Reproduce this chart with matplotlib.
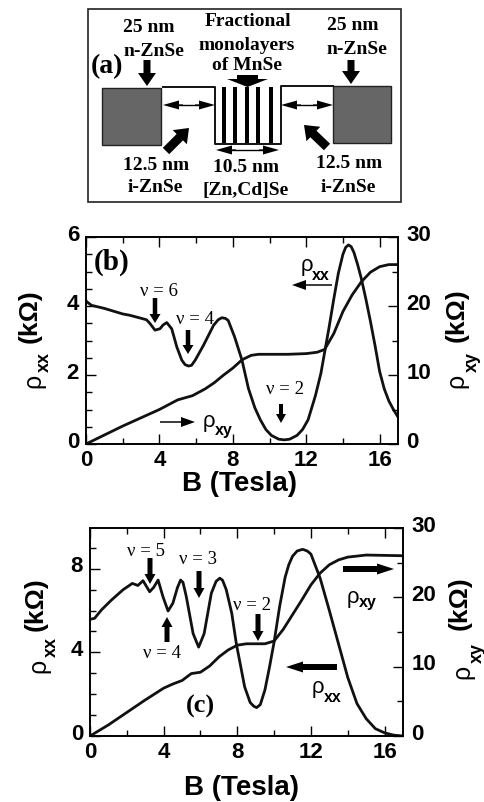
import matplotlib
matplotlib.use("Agg")
import matplotlib.pyplot as plt
from matplotlib.patches import Rectangle
from matplotlib.ticker import MultipleLocator
from matplotlib.transforms import ScaledTranslation

W, H = 485, 802
SANS = "Liberation Sans"
SERIF = "Liberation Serif"

# panel (b)
b_xx_B = [0, .1, .3, 1, 2, 2.4, 3.1, 3.3, 3.49, 3.76, 4.03, 4.2, 4.4, 4.67, 4.95, 5.22, 5.4, 5.58, 5.75, 5.95, 6.4, 6.95, 7.2, 7.4, 7.6, 7.75, 8.1, 8.5, 8.85, 9.2, 9.5, 9.8, 10.1, 10.5, 10.8, 11.1, 11.5, 11.8, 12.1, 12.5, 12.8, 13.0, 13.25, 13.5, 13.75, 14.0, 14.15, 14.3, 14.45, 14.6, 14.8, 15, 15.25, 15.5, 15.75, 16, 16.25, 16.5, 16.75, 17]
b_xx = [4.15, 4.1, 4.02, 3.93, 3.77, 3.73, 3.63, 3.6, 3.49, 3.3, 3.34, 3.45, 3.52, 3.34, 2.81, 2.43, 2.3, 2.26, 2.28, 2.43, 2.86, 3.44, 3.6, 3.66, 3.64, 3.58, 3.1, 2.43, 1.61, 1.05, .7, .42, .25, .14, .12, .14, .25, .42, .7, 1.4, 2.05, 2.65, 3.4, 4.2, 4.95, 5.5, 5.7, 5.77, 5.72, 5.55, 5.2, 4.8, 4.2, 3.55, 2.85, 2.1, 1.6, 1.25, 1.0, .78]
b_xy_B = [0, 1, 2, 3, 4, 5, 5.8, 6.5, 7, 7.5, 8, 8.5, 9, 9.4, 10, 11, 12, 12.6, 13, 13.5, 14, 14.5, 15, 15.5, 16, 16.5, 17]
b_xy = [0, 1.3, 2.6, 3.8, 5, 6.4, 7, 8, 8.9, 10, 11, 12.2, 12.85, 13, 13, 13, 13.1, 13.3, 13.7, 16, 19.2, 21.6, 23.5, 24.9, 25.7, 26, 26]

# panel (c)
c_xx_B = [0, .25, .62, 1.16, 1.8, 2.3, 2.6, 2.88, 3.24, 3.45, 3.7, 3.96, 4.24, 4.5, 4.75, 4.92, 5.05, 5.23, 5.6, 5.9, 6.2, 6.59, 6.85, 7.05, 7.2, 7.4, 7.7, 7.95, 8.4, 8.7, 8.9, 9.05, 9.25, 9.5, 9.75, 10, 10.3, 10.6, 10.8, 11, 11.25, 11.55, 11.8, 12, 12.5, 13, 13.5, 14, 14.5, 15, 15.5, 16, 16.5, 17]
c_xx = [5.58, 5.63, 6.03, 6.5, 7.0, 7.3, 7.2, 7.43, 6.9, 7.1, 7.46, 6.67, 5.98, 6.35, 7.1, 7.46, 7.35, 6.67, 4.9, 4.25, 4.9, 6.83, 7.4, 7.55, 7.45, 7.0, 5.87, 4.4, 2.35, 1.6, 1.42, 1.36, 1.5, 2.2, 3.3, 4.5, 6.2, 7.6, 8.2, 8.6, 8.85, 8.93, 8.85, 8.7, 7.55, 6.0, 4.4, 2.8, 1.55, .83, .35, .15, .04, 0]
c_xy_B = [0, 1, 2, 3, 4, 4.5, 5, 5.5, 6, 6.5, 7, 7.5, 8, 8.5, 9.5, 10, 10.5, 11, 11.5, 12, 12.5, 13, 13.5, 14, 15, 17]
c_xy = [0, 1.6, 3.4, 5.2, 6.9, 7.5, 8.0, 9.0, 9.2, 10.1, 11.4, 12.4, 13.1, 13.3, 13.3, 13.7, 15.4, 17.5, 19.6, 21.8, 23.5, 24.7, 25.4, 25.8, 26.1, 26]

b_left_ticks = [0, 2, 4, 6]
c_left_ticks = [0, 4, 8]
right_ticks = [0, 10, 20, 30]
x_ticks = [0, 4, 8, 12, 16]

fig = plt.figure(figsize=(W / 100, H / 100), dpi=100, facecolor="white")
lift = ScaledTranslation(0, 4.5 / 100, fig.dpi_scale_trans)


def frac_rect(x0, y0, x1, y1):
    return [x0 / W, 1 - y1 / H, (x1 - x0) / W, (y1 - y0) / H]


def panel(box, xx_B, xx, xy_B, xy, ymax, lticks, lminor):
    ax = fig.add_axes(frac_rect(*box))
    ax.plot(xx_B, xx, color="#111111", lw=2.0, solid_joinstyle="round")
    ax.set_xlim(0, 17)
    ax.set_ylim(0, ymax)
    ax.set_xticks(x_ticks)
    ax.xaxis.set_minor_locator(MultipleLocator(2))
    ax.set_yticks(lticks)
    ax.yaxis.set_minor_locator(MultipleLocator(lminor))
    ax.tick_params(which="both", direction="in", top=True, width=1, labelsize=16)
    ax.tick_params(axis="x", pad=4)
    ax.tick_params(axis="y", pad=5)
    ax.tick_params(which="major", length=7)
    ax.tick_params(which="minor", length=4)
    ax2 = ax.twinx()
    ax2.plot(xy_B, xy, color="#111111", lw=2.0, solid_joinstyle="round")
    ax2.set_ylim(0, 30)
    ax2.set_yticks(right_ticks)
    ax2.yaxis.set_minor_locator(MultipleLocator(5))
    ax2.tick_params(which="both", direction="in", width=1, labelsize=16, pad=6)
    ax2.tick_params(which="major", length=7)
    ax2.tick_params(which="minor", length=4)
    for a in (ax, ax2):
        for s in a.spines.values():
            s.set_linewidth(1.2)
        for lab in a.get_xticklabels() + a.get_yticklabels():
            lab.set_fontfamily(SANS)
            lab.set_fontweight("bold")
    for t in ax.yaxis.get_major_ticks():
        t.label1.set_transform(t.label1.get_transform() + lift)
    for t in ax2.yaxis.get_major_ticks():
        t.label2.set_transform(t.label2.get_transform() + lift)
    return ax


panel((86, 237, 398, 444), b_xx_B, b_xx, b_xy_B, b_xy, 6, b_left_ticks, 0.5)
panel((90, 528, 403, 736), c_xx_B, c_xx, c_xy_B, c_xy, 9.95, c_left_ticks, 1)

# overlay in reference pixel coordinates for the annotations and schematic
ov = fig.add_axes([0, 0, 1, 1], zorder=10)
ov.set_xlim(0, W)
ov.set_ylim(H, 0)
ov.axis("off")
ov.patch.set_alpha(0)


def txt(x, y, s, size=11, fam=SERIF, weight="bold", rot=0, ha="center", va="center"):
    ov.text(x, y, s, fontsize=size, family=fam, fontweight=weight, rotation=rot, ha=ha, va=va, color="black")


def arrow(x0, y0, x1, y1, w=6, hw=15, hl=11):
    ov.arrow(x0, y0, x1 - x0, y1 - y0, width=w, head_width=hw, head_length=hl,
             length_includes_head=True, color="black", lw=0)


def darrow(x0, y, x1):
    arrow(x0 + 20, y, x0, y, w=1.2, hw=9, hl=16)
    arrow(x1 - 20, y, x1, y, w=1.2, hw=9, hl=16)
    ov.plot([x0 + 10, x1 - 10], [y, y], color="black", lw=1)


# schematic (a)
ov.add_patch(Rectangle((88, 9), 313, 193, fill=False, ec="#222222", lw=1.2))
ov.add_patch(Rectangle((102, 88), 59, 57, fc="#666666", ec="#222222", lw=1))
ov.add_patch(Rectangle((333, 86), 58, 57, fc="#666666", ec="#222222", lw=1))
ov.plot([163, 215, 215, 281, 281, 333], [87, 87, 144, 144, 86, 86], color="#111111", lw=1.4)
for sx in (224, 235, 247, 258, 271):
    ov.add_patch(Rectangle((sx - 2, 87), 4, 56, fc="black", ec="none"))
txt(149, 27, "25 nm", 14)
txt(154, 51, "n-ZnSe", 14)
txt(353, 26, "25 nm", 14)
txt(357, 49, "n-ZnSe", 14)
txt(248, 21, "Fractional", 14)
txt(247, 45, "monolayers", 14)
txt(247, 66, "of MnSe", 14)
txt(107, 67, "(a)", 20)
txt(156, 165, "12.5 nm", 14)
txt(155, 188, "i-ZnSe", 14)
txt(246, 167, "10.5 nm", 14)
txt(246, 190, "[Zn,Cd]Se", 14)
txt(349, 163, "12.5 nm", 14)
txt(348, 187, "i-ZnSe", 14)
arrow(147, 60, 147, 86, w=7, hw=18, hl=13)
arrow(351, 60, 351, 84, w=7, hw=18, hl=13)
arrow(247.5, 75, 247.5, 87, w=21, hw=41, hl=8)
arrow(166, 151, 189, 128, w=9, hw=20, hl=13)
arrow(327, 147, 304, 125, w=9, hw=20, hl=13)
darrow(163, 105, 215)
darrow(281, 105, 333)
darrow(216, 150, 279)

# panel (b) labels
txt(112, 262, "(b)", 21)
txt(159, 292, "ν = 6", 13.5, weight="normal")
txt(195, 320, "ν = 4", 13.5, weight="normal")
txt(285, 389, "ν = 2", 13.5, weight="normal")
txt(307, 265, "ρ", 16, fam=SANS, weight="normal")
txt(321, 275, "xx", 11.5, fam=SANS)
txt(209, 421, "ρ", 16, fam=SANS, weight="normal")
txt(224, 431, "xy", 11.5, fam=SANS)
arrow(155, 298, 155, 323, w=4.5, hw=11, hl=9)
arrow(188, 330, 188, 354, w=4.5, hw=11, hl=9)
arrow(281, 404, 281, 423, w=4, hw=10, hl=9)
arrow(332, 285, 292, 285, w=1.5, hw=10, hl=14)
arrow(160, 422, 195, 422, w=1.5, hw=10, hl=14)
txt(240, 484, "B (Tesla)", 20, fam=SANS)

# panel (c) labels
txt(146, 552, "ν = 5", 13.5, weight="normal")
txt(198, 560, "ν = 3", 13.5, weight="normal")
txt(252, 606, "ν = 2", 13.5, weight="normal")
txt(162, 654, "ν = 4", 13.5, weight="normal")
txt(200, 706, "(c)", 19)
txt(353, 597, "ρ", 16, fam=SANS, weight="normal")
txt(368, 603, "xy", 11.5, fam=SANS)
txt(318, 687, "ρ", 16, fam=SANS, weight="normal")
txt(333, 697, "xx", 11.5, fam=SANS)
arrow(150, 558, 150, 584, w=5, hw=11, hl=10)
arrow(199, 571, 199, 598, w=5, hw=11, hl=10)
arrow(258, 614, 258, 641, w=5, hw=11, hl=10)
arrow(167, 642, 167, 617, w=5, hw=11, hl=10)
arrow(343, 569, 394, 569, w=6, hw=11, hl=17)
arrow(337, 667, 286, 667, w=6, hw=11, hl=17)
txt(242, 788, "B (Tesla)", 20, fam=SANS)

# rotated axis titles: greek letter, subscript and unit placed separately
rot_labels = [
    (33, 381, "ρ", 18, "normal"), (44, 362, "xx", 13, "bold"), (30, 316, "(kΩ)", 19, "bold"),
    (456, 381, "ρ", 18, "normal"), (472, 362, "xy", 13, "bold"), (457, 315, "(kΩ)", 19, "bold"),
    (38, 666, "ρ", 18, "normal"), (51, 647, "xx", 13, "bold"), (36, 604, "(kΩ)", 19, "bold"),
    (462, 672, "ρ", 18, "normal"), (477, 653, "xy", 13, "bold"), (460, 603, "(kΩ)", 19, "bold"),
]
for x, y, s, size, weight in rot_labels:
    txt(x, y, s, size, fam=SANS, weight=weight, rot=90)

fig.savefig("out.png", dpi=100)
